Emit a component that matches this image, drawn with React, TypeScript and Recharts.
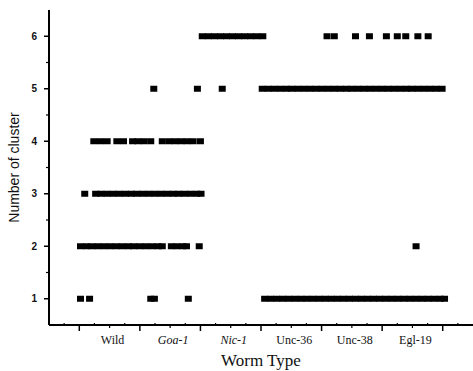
import { ScatterChart, Scatter, XAxis, YAxis } from 'recharts'

// worm groups sit at x = 1..6, boundaries at the half values
const wormTypes = ['Wild', 'Goa-1', 'Nic-1', 'Unc-36', 'Unc-38', 'Egl-19']
const italicTypes = ['Goa-1', 'Nic-1']

// x position of every worm, grouped by the cluster count it was assigned
const cluster1 = [
  0.52, 0.67, 1.68, 1.74, 2.3, 3.56, 3.66, 3.76, 3.86, 3.96, 4.06, 4.16, 4.26, 4.36, 4.46, 4.56, 4.66,
  4.76, 4.86, 4.96, 5.06, 5.16, 5.26, 5.36, 5.46, 5.56, 5.66, 5.76, 5.86, 5.96, 6.06, 6.16, 6.26, 6.36,
  6.46, 6.53,
]
const cluster2 = [
  0.52, 0.62, 0.71, 0.81, 0.91, 1.01, 1.11, 1.21, 1.31, 1.4, 1.5, 1.6, 1.7, 1.8, 1.87, 2.02, 2.11, 2.21,
  2.27, 2.48, 6.06,
]
const cluster3 = [
  0.59, 0.77, 0.86, 0.96, 1.06, 1.16, 1.26, 1.36, 1.45, 1.55, 1.65, 1.75, 1.85, 1.95, 2.05, 2.14, 2.24,
  2.34, 2.44, 2.51,
]
const cluster4 = [
  0.74, 0.85, 0.96, 1.12, 1.23, 1.38, 1.47, 1.57, 1.68, 1.87, 1.98, 2.08, 2.18, 2.28, 2.38, 2.5,
]
const cluster5 = [
  1.73, 2.45, 2.86, 3.52, 3.62, 3.72, 3.82, 3.92, 4.01, 4.11, 4.21, 4.31, 4.41, 4.51, 4.61, 4.71, 4.81,
  4.91, 5.0, 5.1, 5.2, 5.3, 5.4, 5.5, 5.6, 5.7, 5.8, 5.9, 5.99, 6.09, 6.19, 6.29, 6.39, 6.49,
]
const cluster6 = [
  2.53, 2.63, 2.73, 2.83, 2.93, 3.03, 3.13, 3.23, 3.33, 3.43, 3.53, 4.59, 4.71, 5.06, 5.29, 5.57, 5.75,
  5.89, 6.09, 6.26,
]

const clusters = [cluster1, cluster2, cluster3, cluster4, cluster5, cluster6]

const xTicks = Array.from({ length: 27 }, (_, i) => 0.25 + i * 0.25)
const yTicks = Array.from({ length: 11 }, (_, i) => 1 + i * 0.5)

const Square = (p: any) => <rect x={p.cx - 3.5} y={p.cy - 3} width={7} height={6} fill="#000" />

const XTick = ({ x, y, payload }: any) => {
  const v = payload.value
  const frac = v % 1
  if (Math.abs(frac - 0.5) < 1e-6) {
    return <line x1={x} y1={y} x2={x} y2={y + 6} stroke="#000" strokeWidth={1.5} />
  }
  if (Math.abs(frac) < 1e-6) {
    const name = wormTypes[v - 1]
    return (
      <g>
        <line x1={x} y1={y} x2={x} y2={y + 3} stroke="#000" strokeWidth={1.2} />
        <text
          x={x + 3}
          y={y + 19}
          textAnchor="middle"
          fontFamily="Liberation Serif"
          fontSize={12}
          fontStyle={italicTypes.includes(name) ? 'italic' : 'normal'}
          fill="#111"
        >
          {name}
        </text>
      </g>
    )
  }
  return <line x1={x} y1={y} x2={x} y2={y - 2} stroke="#000" strokeWidth={1.2} />
}

const YTick = ({ x, y, payload }: any) => {
  const v = payload.value
  if (Number.isInteger(v)) {
    return (
      <g>
        <line x1={x - 5} y1={y} x2={x} y2={y} stroke="#000" strokeWidth={1.5} />
        <text
          x={x - 12}
          y={y + 3.5}
          textAnchor="end"
          fontFamily="Liberation Sans"
          fontWeight="bold"
          fontSize={10}
          fill="#111"
        >
          {v}
        </text>
      </g>
    )
  }
  return <line x1={x - 3} y1={y} x2={x} y2={y} stroke="#000" strokeWidth={1.2} />
}

export default function App() {
  return (
    <div style={{ position: 'absolute', left: 0, top: 0, width: 473, height: 371, background: '#fff' }}>
      <ScatterChart width={473} height={371} margin={{ top: 10, right: 0, bottom: 0, left: 0 }}>
        <XAxis
          type="number"
          dataKey="x"
          domain={[0, 7]}
          ticks={xTicks}
          interval={0}
          allowDataOverflow
          height={46}
          tickSize={0}
          tickMargin={0}
          tickLine={false}
          tick={<XTick />}
          axisLine={{ stroke: '#000', strokeWidth: 2 }}
          label={{
            value: 'Worm Type',
            position: 'insideBottom',
            offset: 5,
            style: { fontFamily: 'Liberation Serif', fontSize: 17, fill: '#111' },
          }}
        />
        <YAxis
          type="number"
          dataKey="y"
          domain={[0.5, 6.5]}
          ticks={yTicks}
          interval={0}
          allowDataOverflow
          width={49}
          tickSize={0}
          tickMargin={0}
          tickLine={false}
          tick={<YTick />}
          axisLine={{ stroke: '#000', strokeWidth: 2 }}
          label={{
            value: 'Number of cluster',
            angle: -90,
            position: 'insideLeft',
            offset: 14,
            style: { fontFamily: 'Liberation Sans', fontSize: 14, fill: '#111', textAnchor: 'middle' },
          }}
        />
        {clusters.map((xs, i) => (
          <Scatter
            key={i}
            data={xs.map((x) => ({ x, y: i + 1 }))}
            shape={Square}
            isAnimationActive={false}
          />
        ))}
      </ScatterChart>
    </div>
  )
}
